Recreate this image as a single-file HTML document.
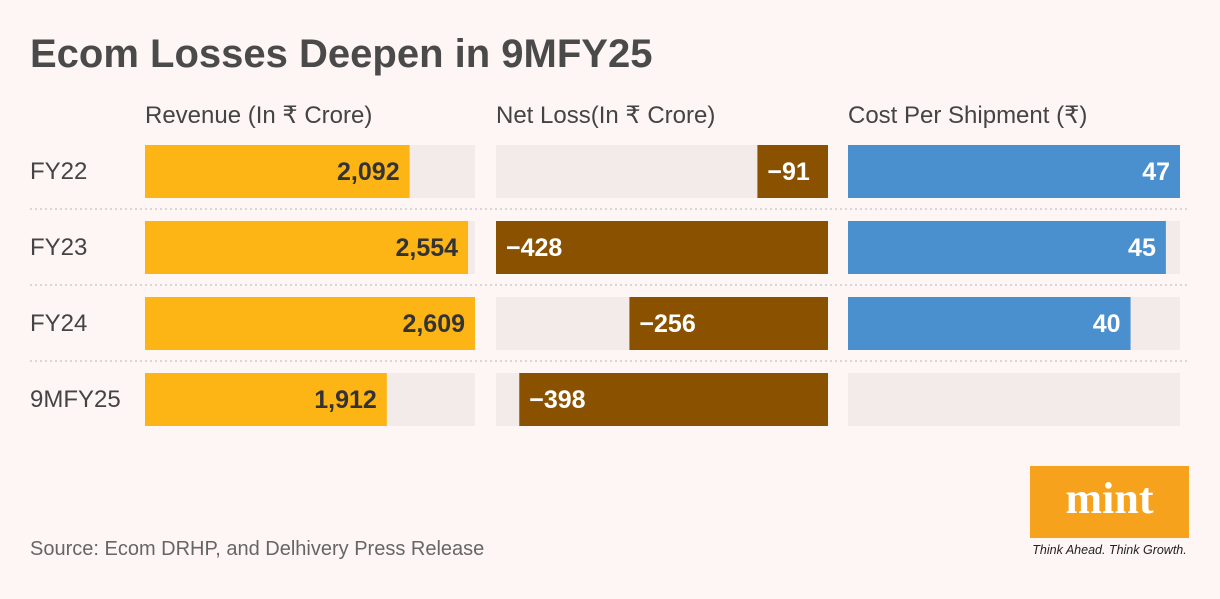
<!DOCTYPE html>
<html><head><meta charset="utf-8"><style>
body{margin:0;width:1220px;height:594px;background:#fdf6f5;overflow:hidden;font-family:"Liberation Sans",sans-serif;}
</style></head><body>
<svg width="1220" height="594" xmlns="http://www.w3.org/2000/svg" id="chart">
<text x="30" y="67" font-size="40" font-weight="bold" fill="#4a4a4a">Ecom Losses Deepen in 9MFY25</text>
<g id="g"></g>
<text x="30" y="555" font-size="20" fill="#666">Source: Ecom DRHP, and Delhivery Press Release</text>
<rect x="1030" y="466" width="159" height="72" fill="#f7a21d"/>
<text x="1109.5" y="513" text-anchor="middle" font-family="Liberation Serif,serif" font-weight="bold" font-size="44" fill="#fff">mint</text>
<text x="1109.5" y="554" text-anchor="middle" font-size="12.5" font-style="italic" fill="#222">Think Ahead. Think Growth.</text>
</svg>
<script>
const categories=["FY22","FY23","FY24","9MFY25"];
const revenue=[2092,2554,2609,1912];
const netLoss=[-91,-428,-256,-398];
const costPerShipment=[47,45,40,null];
const headers=["Revenue (In ₹ Crore)","Net Loss(In ₹ Crore)","Cost Per Shipment (₹)"];
const NS="http://www.w3.org/2000/svg",g=document.getElementById('g');
function el(t,a,p){const e=document.createElementNS(NS,t);for(const k in a)e.setAttribute(k,a[k]);(p||g).appendChild(e);return e;}
const cols=[{x:145,w:330,data:revenue,max:2609,color:"#fdb515",tc:"#333",right:false,fmt:v=>v.toLocaleString('en-US')},
{x:496,w:332,data:netLoss,max:428,color:"#8a5200",tc:"#fff",right:true,fmt:v=>"−"+Math.abs(v)},
{x:848,w:332,data:costPerShipment,max:47,color:"#4a90cf",tc:"#fff",right:false,fmt:v=>""+v}];
headers.forEach((h,i)=>{const t=el('text',{x:cols[i].x,y:123,'font-size':24,fill:'#444'});t.textContent=h;

});
categories.forEach((c,r)=>{const y=145+r*76;
const l=el('text',{x:30,y:y+34,'font-size':24,fill:'#444'});l.textContent=c;


if(r<3){const s=el('line',{x1:30,x2:1188,y1:y+64,y2:y+64,stroke:'#ccc','stroke-width':1.5,'stroke-dasharray':'2,3'});

}
cols.forEach(col=>{const tr=el('rect',{x:col.x,y:y,width:col.w,height:53,fill:'#f2ebea'});


const v=col.data[r];if(v==null)return;
const bw=Math.abs(v)/col.max*col.w;const bx=col.right?col.x+col.w-bw:col.x;
const b=el('rect',{x:bx,y:y,width:bw,height:53,fill:col.color});


const t=el('text',{y:y+35,'font-size':25,'font-weight':'bold',fill:col.tc});
if(col.right){t.setAttribute('x',bx+10);}else{t.setAttribute('x',bx+bw-10);t.setAttribute('text-anchor','end');}
t.textContent=col.fmt(v);

});});
</script>
</body></html>
